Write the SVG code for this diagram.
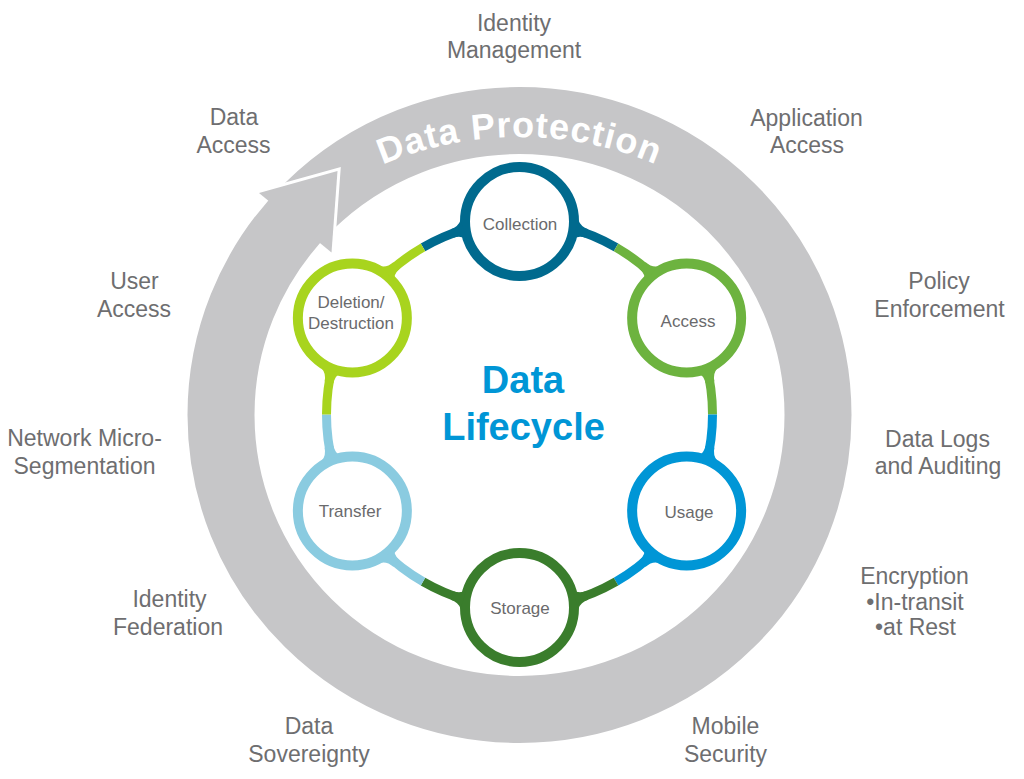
<svg xmlns="http://www.w3.org/2000/svg" width="1024" height="779" viewBox="0 0 1024 779">
<style>
.lbl{font-family:"Liberation Sans",Arial,sans-serif;font-size:23px;fill:#6E6E70;text-anchor:middle}
.nl{font-family:"Liberation Sans",Arial,sans-serif;font-size:17px;fill:#6A6A6C;text-anchor:middle}
.nc{fill:#fff;stroke-width:10}
.conn{fill:none;stroke-width:9}
</style>
<defs>
<path id="fl" d="M -3,-10 Q 1,-4.5 9,-4.5 L 9,4.5 Q 1,4.5 -3,10 Z"/>
<path id="dpArc" d="M 204.5 416 A 315 279 0 0 1 834.5 416"/>
</defs>
<rect width="1024" height="779" fill="#fff"/>
<g id="protection-ring">
<ellipse cx="519.5" cy="415" rx="298.5" ry="294.5" fill="none" stroke="#C6C6C8" stroke-width="67"/>
<polyline points="259,193 337.5,171 331.5,252.5" fill="none" stroke="#fff" stroke-width="6"/>
<polygon points="259,193 337.5,171 331.5,252.5" fill="#C6C6C8"/>
<text font-family="Liberation Sans, Arial, sans-serif" font-weight="bold" font-size="36" fill="#fff" letter-spacing="1"><textPath href="#dpArc" startOffset="50%" text-anchor="middle">Data Protection</textPath></text>
</g>
<g id="connectors">
<path class="conn" stroke="#006A8E" d="M 423 247.36 A 193 193 0 0 1 616 247.36"/>
<path class="conn" stroke="#6DB33F" d="M 616 247.36 A 193 193 0 0 1 712.5 414.5"/>
<path class="conn" stroke="#0096D6" d="M 712.5 414.5 A 193 193 0 0 1 616 581.64"/>
<path class="conn" stroke="#3A7D2C" d="M 616 581.64 A 193 193 0 0 1 423 581.64"/>
<path class="conn" stroke="#8ACBE0" d="M 423 581.64 A 193 193 0 0 1 326.5 414.5"/>
<path class="conn" stroke="#A8D41E" d="M 326.5 414.5 A 193 193 0 0 1 423 247.36"/>
</g>
<g id="node-collection">
<circle class="nc" cx="519.5" cy="221.5" r="54.5" stroke="#006A8E"/>
<use href="#fl" fill="#006A8E" transform="translate(578.31,230.69) rotate(17.74)"/>
<use href="#fl" fill="#006A8E" transform="translate(460.69,230.69) rotate(162.26)"/>
<text class="nl" x="520" y="230">Collection</text>
</g>
<g id="node-access">
<circle class="nc" cx="686.64" cy="318" r="54.5" stroke="#6DB33F"/>
<use href="#fl" fill="#6DB33F" transform="translate(708.10,373.51) rotate(77.74)"/>
<use href="#fl" fill="#6DB33F" transform="translate(649.31,271.68) rotate(-137.74)"/>
<text class="nl" x="688" y="326.5">Access</text>
</g>
<g id="node-usage">
<circle class="nc" cx="686.64" cy="511" r="54.5" stroke="#0096D6"/>
<use href="#fl" fill="#0096D6" transform="translate(649.31,557.32) rotate(137.74)"/>
<use href="#fl" fill="#0096D6" transform="translate(708.10,455.49) rotate(-77.74)"/>
<text class="nl" x="689" y="518">Usage</text>
</g>
<g id="node-storage">
<circle class="nc" cx="519.5" cy="607.5" r="54.5" stroke="#3A7D2C"/>
<use href="#fl" fill="#3A7D2C" transform="translate(460.69,598.31) rotate(197.74)"/>
<use href="#fl" fill="#3A7D2C" transform="translate(578.31,598.31) rotate(-17.74)"/>
<text class="nl" x="520" y="614">Storage</text>
</g>
<g id="node-transfer">
<circle class="nc" cx="352.36" cy="511" r="54.5" stroke="#8ACBE0"/>
<use href="#fl" fill="#8ACBE0" transform="translate(330.90,455.49) rotate(257.74)"/>
<use href="#fl" fill="#8ACBE0" transform="translate(389.69,557.32) rotate(42.26)"/>
<text class="nl" x="350" y="516.5">Transfer</text>
</g>
<g id="node-deletion">
<circle class="nc" cx="352.36" cy="318" r="54.5" stroke="#A8D41E"/>
<use href="#fl" fill="#A8D41E" transform="translate(389.69,271.68) rotate(317.74)"/>
<use href="#fl" fill="#A8D41E" transform="translate(330.90,373.51) rotate(102.26)"/>
<text class="nl" x="351" y="307.5">Deletion/</text>
<text class="nl" x="351" y="329">Destruction</text>
</g>
<g id="center-title" font-family="Liberation Sans, Arial, sans-serif" font-weight="bold" font-size="38" fill="#0096D6" text-anchor="middle">
<text x="523" y="393">Data</text>
<text x="523.5" y="440">Lifecycle</text>
</g>
<g id="outer-labels">
<text class="lbl" x="514" y="31">Identity</text>
<text class="lbl" x="514" y="58">Management</text>
<text class="lbl" x="234" y="125">Data</text>
<text class="lbl" x="233.5" y="153">Access</text>
<text class="lbl" x="806.5" y="126">Application</text>
<text class="lbl" x="807" y="153">Access</text>
<text class="lbl" x="134.5" y="289">User</text>
<text class="lbl" x="134" y="317">Access</text>
<text class="lbl" x="939" y="289">Policy</text>
<text class="lbl" x="939.5" y="317">Enforcement</text>
<text class="lbl" x="84.5" y="446">Network Micro-</text>
<text class="lbl" x="84.5" y="474">Segmentation</text>
<text class="lbl" x="937.5" y="446.5">Data Logs</text>
<text class="lbl" x="938" y="474">and Auditing</text>
<text class="lbl" x="914.5" y="584">Encryption</text>
<text class="lbl" x="915" y="609.5">•In-transit</text>
<text class="lbl" x="915.5" y="635">•at Rest</text>
<text class="lbl" x="169.5" y="607">Identity</text>
<text class="lbl" x="168" y="635">Federation</text>
<text class="lbl" x="309" y="734">Data</text>
<text class="lbl" x="309" y="762">Sovereignty</text>
<text class="lbl" x="725.5" y="734">Mobile</text>
<text class="lbl" x="725.5" y="762">Security</text>
</g>
</svg>
